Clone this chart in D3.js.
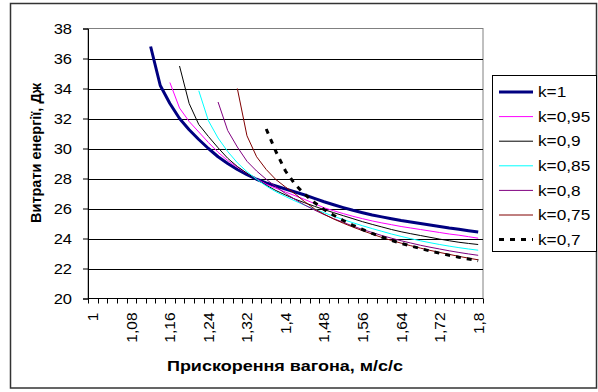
<!DOCTYPE html>
<html lang="uk">
<head>
<meta charset="utf-8">
<title>Витрати енергії</title>
<script src="https://cdn.jsdelivr.net/npm/d3@7"></script>
<style type="text/css">
body { margin: 0; background: #fff; }
svg  { display: block; font-family: Arial, "Liberation Sans", sans-serif; }
</style>
</head>
<body>
<script type="text/javascript">

// categories (acceleration, m/s/s)
var categories = ["1","1,02","1,04","1,06","1,08","1,1","1,12","1,14","1,16","1,18",
  "1,2","1,22","1,24","1,26","1,28","1,3","1,32","1,34","1,36","1,38",
  "1,4","1,42","1,44","1,46","1,48","1,5","1,52","1,54","1,56","1,58",
  "1,6","1,62","1,64","1,66","1,68","1,7","1,72","1,74","1,76","1,78","1,8"];

var yTicks = [20, 22, 24, 26, 28, 30, 32, 34, 36, 38];

// energy, J (null = no point)
var k1 = [null,null,null,null,null,null,
  36.8,34.2,33.0,32.0,31.25,30.6,30.0,29.45,29.0,28.6,28.25,27.95,27.7,27.5,
  27.3,27.1,26.9,26.68,26.45,26.25,26.06,25.88,25.72,25.57,25.44,25.32,25.2,25.1,
  25.0,24.9,24.8,24.7,24.62,24.52,24.43];
var k095 = [null,null,null,null,null,null,null,null,
  34.4,32.7,31.8,31.1,30.4,29.75,29.2,28.75,28.35,27.97,27.62,27.35,27.1,26.85,
  26.6,26.33,26.05,25.85,25.66,25.48,25.32,25.17,25.04,24.92,24.8,24.7,24.6,24.5,
  24.4,24.3,24.22,24.12,24.02];
var k09 = [null,null,null,null,null,null,null,null,null,
  35.5,33.0,31.6,30.8,30.05,29.35,28.8,28.35,27.95,27.55,27.2,26.9,26.62,26.38,
  26.15,25.93,25.72,25.52,25.32,25.12,24.94,24.77,24.6,24.45,24.32,24.2,24.08,
  23.96,23.85,23.75,23.67,23.6];
var k085 = [null,null,null,null,null,null,null,null,null,null,null,
  33.85,31.85,30.7,29.8,29.05,28.45,27.95,27.5,27.12,26.8,26.5,26.22,25.96,25.72,
  25.48,25.26,25.05,24.85,24.66,24.48,24.3,24.14,23.99,23.85,23.72,23.6,23.49,
  23.39,23.3,23.22];
var k08 = [null,null,null,null,null,null,null,null,null,null,null,null,null,
  33.1,31.2,30.1,29.15,28.5,27.95,27.45,27.0,26.6,26.23,25.9,25.6,25.32,25.07,
  24.83,24.6,24.4,24.2,24.02,23.85,23.7,23.55,23.42,23.3,23.18,23.07,22.97,22.88];
var k075 = [null,null,null,null,null,null,null,null,null,null,null,null,null,null,null,
  34.0,30.85,29.45,28.6,27.93,27.43,26.97,26.45,25.98,25.62,25.3,25.02,24.76,
  24.52,24.29,24.07,23.87,23.69,23.52,23.36,23.21,23.07,22.94,22.81,22.69,22.58];
var k07 = [null,null,null,null,null,null,null,null,null,null,null,null,null,null,null,
  null,null,null,
  31.3,29.8,28.5,27.6,26.95,26.4,25.93,25.55,25.2,24.88,24.6,24.34,24.1,23.88,
  23.68,23.5,23.33,23.17,23.02,22.88,22.75,22.63,22.52];

var seriesNames = ["k=1", "k=0,95", "k=0,9", "k=0,85", "k=0,8", "k=0,75", "k=0,7"];
var seriesValues = [k1, k095, k09, k085, k08, k075, k07];

var styles = [
  { color: "#000080", width: 3,   dash: null },
  { color: "#ff00ff", width: 1,   dash: null },
  { color: "#000000", width: 1,   dash: null },
  { color: "#00ffff", width: 1,   dash: null },
  { color: "#800080", width: 1,   dash: null },
  { color: "#800000", width: 1,   dash: null },
  { color: "#000000", width: 3,   dash: "5,6" }
];

var W = 598, H = 392;
var plot = { left: 88, right: 483, top: 28.5, bottom: 298.5 };

var svg = d3.select("body").append("svg")
    .attr("width", W)
    .attr("height", H);

// chart frame
svg.append("rect")
    .attr("x", 10.5).attr("y", 3.5)
    .attr("width", 586).attr("height", 384.5)
    .attr("fill", "#fff")
    .attr("stroke", "#333")
    .attr("stroke-width", 1.5);

var x = d3.scaleBand().domain(categories).range([plot.left, plot.right]).padding(0);
var y = d3.scaleLinear().domain([20, 38]).range([plot.bottom, plot.top]);
var cx = function(c) { return x(c) + x.bandwidth() / 2; };

// plot area border
svg.append("rect")
    .attr("x", plot.left).attr("y", plot.top)
    .attr("width", plot.right - plot.left).attr("height", plot.bottom - plot.top)
    .attr("fill", "#fff")
    .attr("stroke", "#808080")
    .attr("stroke-width", 1);

// grid lines
svg.append("g").selectAll("line")
    .data(yTicks.slice(1, -1))
    .enter().append("line")
    .attr("x1", plot.left).attr("x2", plot.right)
    .attr("y1", function(d) { return Math.round(y(d)) + 0.5; })
    .attr("y2", function(d) { return Math.round(y(d)) + 0.5; })
    .attr("stroke", "#000")
    .attr("stroke-width", 1);

// y axis
var yAxis = d3.axisLeft(y).tickValues(yTicks).tickSize(5).tickPadding(11)
    .tickFormat(d3.format("d"));
var gy = svg.append("g")
    .attr("transform", "translate(" + plot.left + ",0)")
    .call(yAxis);
gy.select(".domain").attr("stroke", "#000");
gy.selectAll("line").attr("stroke", "#000");
gy.selectAll("text")
    .attr("font-size", 15).attr("fill", "#000")
    .attr("font-family", "Arial, 'Liberation Sans', sans-serif")
    .attr("transform", "translate(-16,0) scale(1.1,1)")
    .attr("x", 0);

// x axis: ticks on band edges, labels every 4th category
var edges = categories.map(function(c) { return x(c); }).concat([plot.right]);
var gx = svg.append("g");
gx.append("line")
    .attr("x1", plot.left).attr("x2", plot.right)
    .attr("y1", plot.bottom).attr("y2", plot.bottom)
    .attr("stroke", "#000");
gx.selectAll(".tk")
    .data(edges)
    .enter().append("line")
    .attr("class", "tk")
    .attr("x1", function(d) { return Math.round(d) + 0.5; })
    .attr("x2", function(d) { return Math.round(d) + 0.5; })
    .attr("y1", plot.bottom).attr("y2", plot.bottom + 5)
    .attr("stroke", "#000");
gx.selectAll("text")
    .data(categories.filter(function(c, i) { return i % 4 === 0; }))
    .enter().append("text")
    .attr("transform", function(d) {
        return "translate(" + cx(d) + "," + (plot.bottom + 14) + ") rotate(-90)";
    })
    .attr("text-anchor", "end")
    .attr("dy", "0.35em")
    .attr("font-size", 15.5)
    .text(function(d) { return d; });

// series lines
var line = d3.line()
    .defined(function(d) { return d.v != null; })
    .x(function(d) { return cx(d.c); })
    .y(function(d) { return y(d.v); });

seriesValues.forEach(function(vals, s) {
    var pts = categories.map(function(c, i) { return { c: c, v: vals[i] }; });
    svg.append("path")
        .datum(pts)
        .attr("d", line)
        .attr("fill", "none")
        .attr("stroke", styles[s].color)
        .attr("stroke-width", styles[s].width)
        .attr("stroke-dasharray", styles[s].dash)
        .attr("stroke-linejoin", "round");
});

// axis titles
svg.append("text")
    .attr("transform", "translate(36,153) rotate(-90)")
    .attr("text-anchor", "middle")
    .attr("dy", "0.35em")
    .attr("font-size", 14.5)
    .attr("font-weight", "bold")
    .text("Витрати енергії, Дж");

svg.append("text")
    .attr("transform", "translate(285,366) scale(1.2,1)")
    .attr("text-anchor", "middle")
    .attr("dy", "0.35em")
    .attr("font-size", 15)
    .attr("font-weight", "bold")
    .text("Прискорення вагона, м/с/с");

// legend
var legend = svg.append("g");
legend.append("rect")
    .attr("x", 492.5).attr("y", 75.5)
    .attr("width", 104).attr("height", 176)
    .attr("fill", "#fff")
    .attr("stroke", "#000");

var entries = legend.selectAll(".entry")
    .data(seriesNames)
    .enter().append("g")
    .attr("class", "entry")
    .attr("transform", function(d, i) { return "translate(0," + (92 + i * 24.6) + ")"; });

entries.append("line")
    .attr("x1", 499).attr("x2", 533)
    .attr("y1", 0).attr("y2", 0)
    .attr("stroke", function(d, i) { return styles[i].color; })
    .attr("stroke-width", function(d, i) { return styles[i].width; })
    .attr("stroke-dasharray", function(d, i) { return styles[i].dash; });

entries.append("text")
    .attr("transform", "translate(538,0) scale(1.15,1)")
    .attr("dy", "0.35em")
    .attr("font-size", 15)
    .text(function(d) { return d; });

</script>
</body>
</html>
